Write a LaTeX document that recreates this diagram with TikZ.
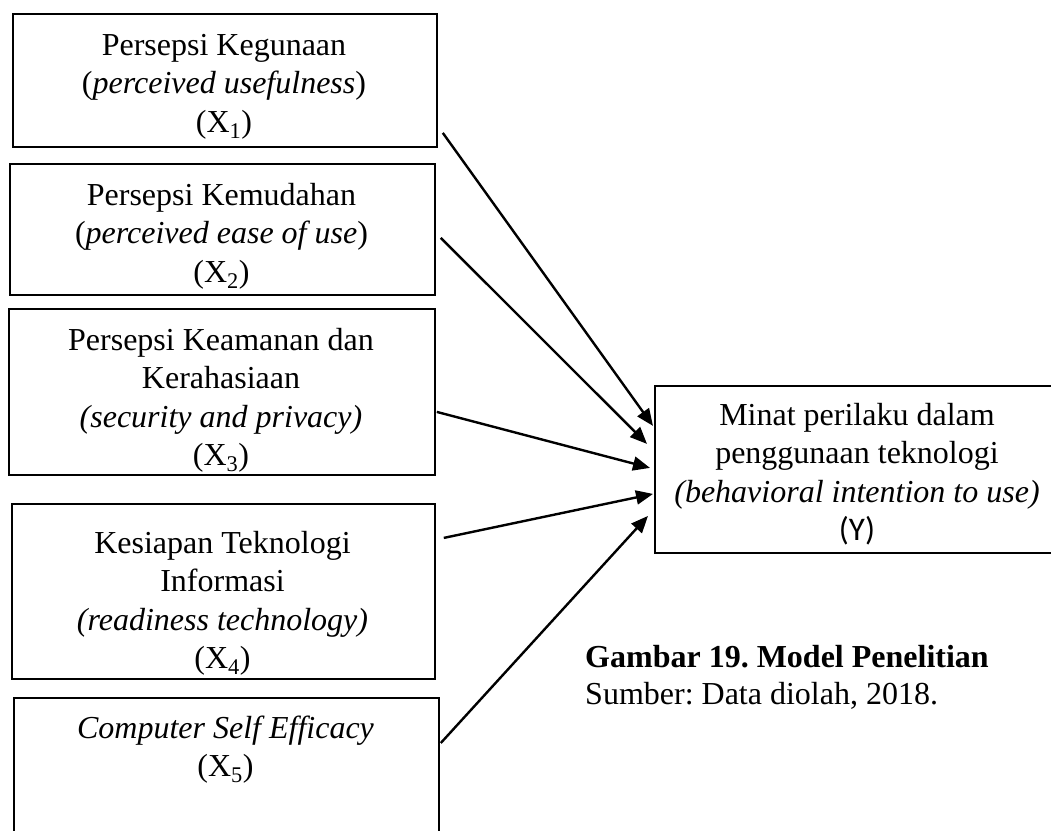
\documentclass[tikz,border=0pt]{standalone}
\usepackage{fontspec}
\setmainfont{Liberation Serif}
\newfontfamily\carlitofont{Carlito}
\usetikzlibrary{arrows.meta}
\frenchspacing
\begin{document}
\begin{tikzpicture}[x=1pt,y=-1pt,
  box/.style={draw, line width=1.8pt, inner sep=0pt, anchor=north west},
  txt/.style={align=center, inner sep=0pt, anchor=north, font=\fontsize{32}{38.5}\selectfont},
  captxt/.style={align=left, inner sep=0pt, anchor=north west, font=\fontsize{32}{37}\selectfont},
  conn/.style={line width=2.4pt, -{Triangle[length=17pt,width=14pt]}}]
\useasboundingbox (0,0) rectangle (1051,830);
\clip (0,0) rectangle (1051,830);
% boxes
\node[box, minimum width=424pt, minimum height=133pt] (b1) at (12,13) {};
\node[box, minimum width=425pt, minimum height=131pt] (b2) at (9,163) {};
\node[box, minimum width=426pt, minimum height=166pt] (b3) at (8,308) {};
\node[box, minimum width=423pt, minimum height=175pt] (b4) at (11,503) {};
\node[box, minimum width=425pt, minimum height=160pt] (b5) at (13,697) {};
\node[box, minimum width=406pt, minimum height=167pt] (by) at (654,385) {};
% texts
\node[txt] (t1) at (224,28) {\strut Persepsi Kegunaan\\(\textit{perceived usefulness})\\(X\textsubscript{1})};
\node[txt] (t2) at (221.5,178) {\strut Persepsi Kemudahan\\(\textit{perceived ease of use})\\(X\textsubscript{2})};
\node[txt] (t3) at (221,323) {\strut Persepsi Keamanan dan\\Kerahasiaan\\\textit{(security and privacy)}\\(X\textsubscript{3})};
\node[txt] (t4) at (222.5,526) {\strut Kesiapan Teknologi\\Informasi\\\textit{(readiness technology)}\\(X\textsubscript{4})};
\node[txt] (t5) at (225.5,711) {\strut\textit{Computer Self Efficacy}\\(X\textsubscript{5})};
\node[txt] (ty) at (857,398) {\strut Minat perilaku dalam\\penggunaan teknologi\\\textit{(behavioral intention to use)}\\{\carlitofont\fontsize{33}{38.5}\selectfont (Y)}};
\node[captxt] (caption) at (585,641) {\strut\textbf{Gambar 19. Model Penelitian}\\Sumber: Data diolah, 2018.};
% connectors
\draw[conn] ([shift={(5,52.5)}]b1.east) -- ([shift={(-1,-43.5)}]by.west);
\draw[conn] ([shift={(5,8.5)}]b2.east) -- ([shift={(-7,-25.5)}]by.west);
\draw[conn] ([shift={(1,20)}]b3.east) -- ([shift={(-4,-1.5)}]by.west);
\draw[conn] ([shift={(8,-53.5)}]b4.east) -- ([shift={(-1,24.5)}]by.west);
\draw[conn] ([shift={(1,46)}]b5.north east) -- ([shift={(-6,46.5)}]by.west);
\end{tikzpicture}
\end{document}
